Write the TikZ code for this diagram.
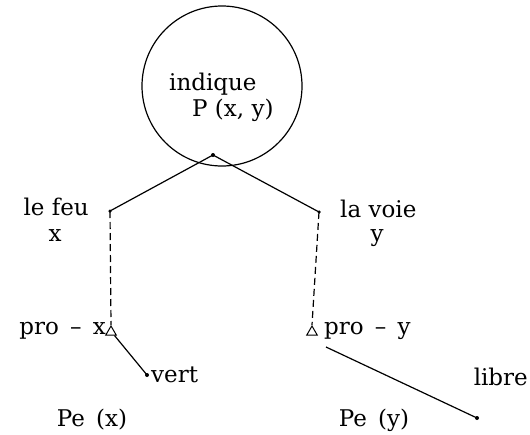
\documentclass[tikz,border=0pt]{standalone}
\usepackage{fontspec}
\setmainfont{DejaVu Serif}
\usetikzlibrary{shapes.geometric}
\begin{document}
\begin{tikzpicture}[x=1pt,y=-1pt,
  lbl/.style={inner sep=0pt,font=\fontsize{23}{26}\selectfont},
  dotpt/.style={circle,fill,inner sep=0pt,minimum size=4pt},
  tri/.style={draw,isosceles triangle,isosceles triangle apex angle=60,shape border rotate=90,inner sep=0pt,minimum size=9pt,line width=1pt},
  ln/.style={line width=1.2pt},
  dsh/.style={line width=1.2pt,dash pattern=on 7pt off 4pt}]
\useasboundingbox (0,0) rectangle (530,434);
\node[draw,circle,line width=1.2pt,minimum size=160pt] (circ) at (222,86) {};
\node[lbl,anchor=west] (ind) at (169,84) {indique};
\node[lbl,anchor=west] (pxy) at (192,110) {P (x, y)};
\node[dotpt] (c) at (213,155) {};
\node[dotpt,minimum size=3.5pt] (l) at (110,211) {};
\node[dotpt,minimum size=3.5pt] (r) at (319,212) {};
\node[lbl,anchor=east] (feu) at (89,207) {le feu};
\node[lbl] (x) at (55,236) {x};
\node[lbl,anchor=west] (voie) at (340,209) {la voie};
\node[lbl] (y) at (377,238) {y};
\node[tri] (tl) at (111,332) {};
\node[tri] (tr) at (312,332) {};
\node[lbl,anchor=east] (prox) at (106,331) {pro\ \,--\ \,x};
\node[lbl,anchor=west] (proy) at (324,331) {pro\ \,--\ \,y};
\node[dotpt,minimum size=4pt] (ev) at (147,375) {};
\node[dotpt,minimum size=4pt] (el) at (477,418) {};
\node[lbl,anchor=west] (vert) at (151,375) {vert};
\node[lbl,anchor=east] (libre) at (528,377) {libre};
\node[lbl] (pex) at (92,420) {Pe\ \,(x)};
\node[lbl] (pey) at (374,420) {Pe\ \,(y)};
\coordinate (trs) at (326,347);
\draw[ln] (c.center) -- (l.center);
\draw[ln] (c.center) -- (r.center);
\draw[dsh] (l.center) -- (tl.north);
\draw[dsh] (r.center) -- (tr.north);
\draw[ln] (tl.south east) -- (ev.center);
\draw[ln] (trs) -- (el.center);
\end{tikzpicture}
\end{document}
